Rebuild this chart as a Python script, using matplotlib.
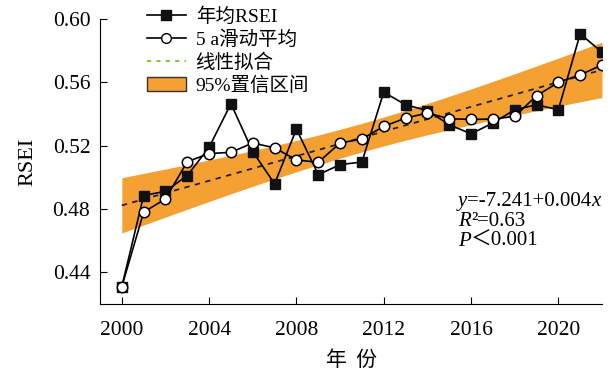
import numpy as np
import matplotlib
matplotlib.use("Agg")
import matplotlib.pyplot as plt
from matplotlib.lines import Line2D
from matplotlib.patches import Patch

# annual RSEI and 5-year moving average
years = np.arange(2000, 2023)
rsei = [0.431, 0.4885, 0.4912, 0.5011, 0.519, 0.5465, 0.5162, 0.4959, 0.5305, 0.5017,
        0.508, 0.5097, 0.5538, 0.5458, 0.5422, 0.5332, 0.5275, 0.5343, 0.5427, 0.5458,
        0.5427, 0.5906, 0.579]
rsei_ma5 = [0.431, 0.478, 0.4864, 0.5099, 0.515, 0.5158, 0.5217, 0.5186, 0.511, 0.5095,
            0.5217, 0.5242, 0.5322, 0.5374, 0.5406, 0.537, 0.5366, 0.5368, 0.5385, 0.5515,
            0.560, 0.5647, 0.571]

x_ticks = [2000, 2004, 2008, 2012, 2016, 2020]
y_ticks = [0.44, 0.48, 0.52, 0.56, 0.60]

SERIF = ["Liberation Serif", "Noto Sans CJK SC", "DejaVu Sans"]
plt.rcParams["font.family"] = SERIF
plt.rcParams["axes.unicode_minus"] = False

ORANGE = "#F5A033"

x = years.astype(float)
y = np.asarray(rsei)
slope, intercept = np.polyfit(x, y, 1)
fit = intercept + slope * x
n = len(x)
resid = y - fit
s = np.sqrt(np.sum(resid**2) / (n - 2))
sxx = np.sum((x - x.mean()) ** 2)
t975 = 2.080  # t(0.975, df=21)
half = t975 * s * np.sqrt(1.0 / n + (x - x.mean()) ** 2 / sxx)

fig = plt.figure(figsize=(6.15, 3.72), dpi=100)
ax = fig.add_axes([100 / 615, 1 - 304 / 372, 502 / 615, 285 / 372])

ax.fill_between(x, fit - half, fit + half, color=ORANGE, lw=0, zorder=1)
ax.plot(x, fit, ls=(0, (3, 3)), color="#222222", lw=1.3, zorder=2)
ax.plot(x, rsei, color="black", lw=1.2, marker="s", ms=7, mfc="#111111", mec="#111111", zorder=3)
ax.plot(x, rsei_ma5, color="black", lw=1.2, marker="o", ms=7.5, mfc="white", mec="black", mew=1.1, zorder=4)

ax.set_xlim(1999, 2022)
ax.set_ylim(0.42, 0.60)
ax.set_xticks(x_ticks)
ax.set_yticks(y_ticks)
ax.set_yticklabels([f"{v:.2f}" for v in y_ticks])
ax.tick_params(direction="in", length=5, width=0.8, labelsize=15.5)
ax.tick_params(axis="x", pad=12)
ax.tick_params(axis="y", pad=7)
for side in ["top", "right"]:
    ax.spines[side].set_visible(False)
for side in ["left", "bottom"]:
    ax.spines[side].set_linewidth(0.8)

ax.set_ylabel("RSEI", fontsize=16, labelpad=11)
ax.set_xlabel("年  份", fontsize=15, family=["Noto Sans CJK SC"], labelpad=7)

handles = [
    Line2D([], [], color="black", lw=1.2, marker="s", ms=7, mfc="#111111", mec="#111111"),
    Line2D([], [], color="black", lw=1.2, marker="o", ms=7, mfc="white", mec="black"),
    Line2D([], [], color="#8DC63F", lw=1.5, ls=(0, (2, 2.5))),
    Patch(facecolor=ORANGE, edgecolor="#333333", lw=1.0),
]
labels = ["年均RSEI", "5 a滑动平均", "线性拟合", "95%置信区间"]
fig.legend(handles, labels, loc="upper left", bbox_to_anchor=(147 / 615, 1 - 7 / 372),
           frameon=False, fontsize=14, handlelength=2.0, handletextpad=0.5,
           labelspacing=0.24, borderpad=0, borderaxespad=0)


def stat_line(y_px, parts):
    # each part: (text, italic?) drawn one after another on the same baseline
    prev = None
    for txt, italic in parts:
        style = "italic" if italic else "normal"
        if prev is None:
            prev = fig.text(458 / 615, 1 - y_px / 372, txt, fontsize=15, style=style,
                            va="baseline")
        else:
            prev = ax.annotate(txt, xy=(1, 0), xycoords=prev, fontsize=15, style=style,
                               va="bottom", ha="left")
    return prev


stat_line(206, [("y", True), ("=-7.241+0.004", False), ("x", True)])
stat_line(226, [("R", True), ("²", False), ("=0.63", False)])
stat_line(246, [("P", True), ("＜0.001", False)])

fig.savefig("out.png", dpi=100)
